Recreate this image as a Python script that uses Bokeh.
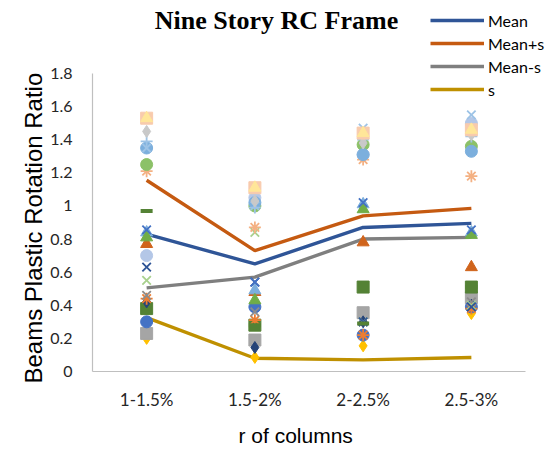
from bokeh.plotting import figure
from bokeh.models import (Legend, LegendItem, Label, Title, FixedTicker,
                          CustomJSTickFormatter, Range1d)
from bokeh.embed import file_html
from bokeh.resources import INLINE

categories = ["1-1.5%", "1.5-2%", "2-2.5%", "2.5-3%"]
y_ticks = [0, 0.2, 0.4, 0.6, 0.8, 1.0, 1.2, 1.4, 1.6, 1.8]

mean = [0.83, 0.65, 0.87, 0.895]
mean_plus_s = [1.155, 0.73, 0.94, 0.985]
mean_minus_s = [0.505, 0.57, 0.80, 0.81]
s_values = [0.325, 0.08, 0.07, 0.085]

# individual records (scatter), one value per category
rec_yellow_diamond = [0.20, 0.085, 0.155, 0.35]
rec_gray_square = [0.23, 0.19, 0.355, 0.445]
rec_blue_circle = [0.30, 0.39, 0.22, 0.39]
rec_green_square = [0.38, 0.28, 0.51, 0.51]
rec_navy_diamond = [0.42, 0.145, 0.30, 0.40]
rec_orange_star = [0.44, 0.31, 0.22, 0.38]
rec_gray_x = [0.46, 0.36, 0.30, 0.42]
rec_lightgreen_x = [0.55, 0.84, 0.30, 0.40]
rec_navy_x = [0.63, 0.54, 0.30, 0.39]
rec_lavender_circle = [0.70, 1.05, 1.31, 1.50]
rec_orange_triangle = [0.77, 0.48, 0.78, 0.63]
rec_lightblue_triangle = [0.84, 0.49, 1.01, 0.84]
rec_green_triangle = [0.81, 0.43, 0.98, 0.825]
rec_blue_x = [0.855, 0.54, 1.02, 0.855]
rec_green_dash = [0.97, 0.28, 0.29, 0.51]
rec_peach_star = [1.21, 0.87, 1.28, 1.18]
rec_lightgreen_circle = [1.25, 1.00, 1.37, 1.36]
rec_skyblue_circle = [1.35, 1.02, 1.31, 1.33]
rec_skyblue_x = [1.35, 1.00, 1.47, 1.55]
rec_skyblue_cross = [1.39, 0.99, 1.40, 1.42]
rec_lightgray_diamond = [1.45, 1.03, 1.38, 1.43]
rec_pink_square = [1.53, 1.11, 1.44, 1.46]
rec_lightyellow_triangle = [1.53, 1.11, 1.44, 1.46]

records = [
    rec_yellow_diamond, rec_gray_square, rec_blue_circle, rec_green_square,
    rec_navy_diamond, rec_orange_star, rec_gray_x, rec_lightgreen_x, rec_navy_x,
    rec_lavender_circle, rec_orange_triangle, rec_lightblue_triangle,
    rec_green_triangle, rec_blue_x, rec_green_dash, rec_peach_star,
    rec_lightgreen_circle, rec_skyblue_circle, rec_skyblue_x, rec_skyblue_cross,
    rec_lightgray_diamond, rec_pink_square, rec_lightyellow_triangle,
]
record_styles = [
    ("diamond", "#FFC000"), ("square", "#A5A5A5"), ("circle", "#4472C4"),
    ("square", "#548235"), ("diamond", "#264478"), ("asterisk", "#ED7D31"),
    ("x", "#8C8C8C"), ("x", "#A9D18E"), ("x", "#2F5597"),
    ("circle", "#B4C7E7"), ("triangle", "#D0641C"), ("triangle", "#7CAFDD"),
    ("triangle", "#70AD47"), ("x", "#4472C4"), ("dash", "#548235"),
    ("asterisk", "#F4B183"), ("circle", "#8CC168"), ("circle", "#7CAFDD"),
    ("x", "#9DC3E6"), ("cross", "#9DC3E6"),
    ("diamond", "#C9C9C9"), ("square", "#F8CBAD"), ("triangle", "#FFE699"),
]

# category slots: slot i is centred at i + 0.5
x_pos = [i + 0.5 for i in range(len(categories))]

PX_PER_UNIT = 298 / 1.8          # value-axis scale
SLOT_PX = 108.25                 # width of one category slot
FRAME_LEFT, FRAME_BOTTOM, W, H = 92, 371, 552, 456

p = figure(width=W, height=H,
           x_range=Range1d(0, (W - FRAME_LEFT) / SLOT_PX),
           y_range=Range1d(0, FRAME_BOTTOM / PX_PER_UNIT),
           output_backend="svg", toolbar_location=None,
           min_border_left=FRAME_LEFT, min_border_right=0, min_border_top=0,
           min_border_bottom=H - FRAME_BOTTOM)
p.outline_line_color = None
p.xgrid.grid_line_color = None
p.ygrid.grid_line_color = None

lines = []
for vals, col, name in [(mean, "#2F5597", "Mean"),
                        (mean_plus_s, "#C55A11", "Mean+s"),
                        (mean_minus_s, "#7F7F7F", "Mean-s"),
                        (s_values, "#BF9000", "s")]:
    r = p.line(x_pos, vals, line_color=col, line_width=3.4)
    lines.append((name, r))

for vals, (mk, col) in zip(records, record_styles):
    if mk == "dash":
        lw = 4
    elif mk in ("x", "cross", "asterisk"):
        lw = 1.8
    else:
        lw = 1
    p.scatter(x_pos, vals, marker=mk, size=12, fill_color=col,
              line_color=col, line_width=lw)

p.yaxis.ticker = FixedTicker(ticks=y_ticks)
p.yaxis.bounds = (0, 1.8)
p.yaxis.formatter = CustomJSTickFormatter(code="return tick.toFixed(1).replace(/\\.0$/, '');")
p.xaxis.ticker = FixedTicker(ticks=x_pos)
p.xaxis.bounds = (0, len(categories))
p.xaxis.formatter = CustomJSTickFormatter(args=dict(cats=categories),
                                          code="return cats[Math.floor(tick)] || '';")
for ax in (p.xaxis, p.yaxis):
    ax.axis_line_color = "#BFBFBF"
    ax.axis_line_width = 1.2
    ax.major_tick_line_color = None
    ax.minor_tick_line_color = None
    ax.major_label_text_font = "Lato"
    ax.major_label_text_color = "#262626"
p.yaxis.major_label_text_font_size = "16px"
p.xaxis.major_label_text_font_size = "17px"
p.yaxis.major_label_standoff = 14
p.xaxis.major_label_standoff = 11

ylab = Title(text="Beams Plastic Rotation Ratio", align="left", offset=-12,
             text_font="Liberation Sans", text_font_size="24px",
             text_font_style="normal", text_color="#000000", standoff=2)
p.add_layout(ylab, "left")

legend = Legend(items=[LegendItem(label=n, renderers=[r]) for n, r in lines],
                location=(338, 272), glyph_width=54, glyph_height=20, spacing=3,
                padding=0, margin=0, border_line_color=None,
                background_fill_alpha=0, label_text_font="Lato",
                label_text_font_size="16px", label_text_color="#000000",
                label_standoff=4)
p.add_layout(legend)

title = Label(x=(276 - FRAME_LEFT) / SLOT_PX, y=(FRAME_BOTTOM - 20) / PX_PER_UNIT,
              x_units="data", y_units="data",
              text="Nine Story RC Frame", text_align="center",
              text_baseline="alphabetic", text_font="Liberation Serif",
              text_font_size="26px", text_font_style="bold",
              text_color="#000000")
p.add_layout(title)

xlab = Title(text="r of columns", align="left", offset=146,
             text_font="Liberation Sans", text_font_size="21px",
             text_font_style="normal", text_color="#000000", standoff=18)
p.add_layout(xlab, "below")

open("out.html", "w").write(file_html(p, INLINE))
